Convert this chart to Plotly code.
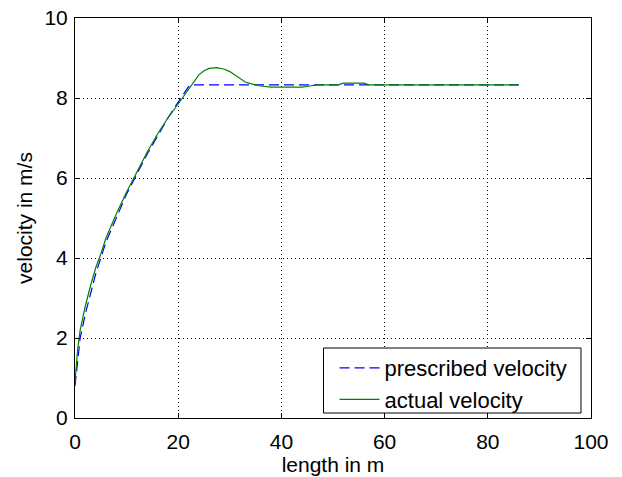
import plotly.graph_objects as go

# Prescribed velocity profile (length in m, velocity in m/s)
prescribed_s = [0, 0.5, 1, 2, 3, 4, 5, 6, 8, 10, 12, 14, 16, 18, 20, 22, 22.6, 86]
prescribed_v = [0.8, 1.5, 2.0, 2.6, 3.1, 3.6, 4.0, 4.4, 5.0, 5.6, 6.1, 6.6, 7.05, 7.5, 7.9, 8.28, 8.33, 8.33]

# Measured (actual) velocity
actual_s = [0, 0.5, 1, 2, 3, 4, 5, 6, 8, 10, 12, 14, 16, 18, 20, 22, 23, 24, 25, 26,
            27.5, 29, 30, 31, 32, 33, 34, 35, 36, 38, 44, 45.5, 47, 51, 52, 56, 57, 86]
actual_v = [0.9, 1.7, 2.2, 2.8, 3.3, 3.75, 4.1, 4.5, 5.1, 5.65, 6.15, 6.65, 7.1, 7.5, 7.85, 8.2, 8.4, 8.58, 8.68, 8.74,
            8.76, 8.72, 8.66, 8.58, 8.48, 8.4, 8.36, 8.33, 8.3, 8.27, 8.27, 8.3, 8.33, 8.33, 8.37, 8.37, 8.33, 8.33]

x_ticks = [0, 20, 40, 60, 80, 100]
y_ticks = [0, 2, 4, 6, 8, 10]

font_family = "Liberation Sans, Arial, sans-serif"
text_font = dict(size=21, color="black", family=font_family)

fig = go.Figure()
fig.add_trace(go.Scatter(
    x=prescribed_s, y=prescribed_v, mode="lines", name="prescribed velocity",
    line=dict(color="#0000FF", width=1.2, dash="10px,5px"),
))
fig.add_trace(go.Scatter(
    x=actual_s, y=actual_v, mode="lines", name="actual velocity",
    line=dict(color="#008000", width=1.2),
))

axis_common = dict(
    showline=True, linecolor="black", linewidth=1, mirror="ticks",
    ticks="inside", ticklen=5, tickcolor="black",
    showgrid=True, gridcolor="black", gridwidth=1, griddash="1px,3px",
    zeroline=False, tickfont=text_font, automargin=False,
)

fig.update_xaxes(range=[0, 100], tickvals=x_ticks, ticktext=[str(v) for v in x_ticks],
                 ticklabelstandoff=5,
                 title=dict(text="length in m", font=text_font, standoff=4),
                 **axis_common)
fig.update_yaxes(range=[0, 10], tickvals=y_ticks, ticktext=[str(v) for v in y_ticks],
                 ticklabelstandoff=2,
                 title=dict(text="velocity in m/s", font=text_font, standoff=6),
                 **axis_common)

# Legend frame: white box with black border behind the legend entries
fig.add_shape(
    type="rect", xref="paper", yref="paper",
    x0=0.4816, x1=0.9806, y0=0.0125, y1=0.175,
    line=dict(color="black", width=1), fillcolor="white", layer="above",
)

fig.update_layout(
    width=622, height=477,
    margin=dict(l=75, r=31, t=18, b=59),
    paper_bgcolor="white", plot_bgcolor="white",
    font=dict(family=font_family, size=21, color="black"),
    showlegend=True,
    legend=dict(
        x=0.503, y=0.1775, xanchor="left", yanchor="top",
        bgcolor="rgba(0,0,0,0)", borderwidth=0,
        font=dict(size=22, color="black", family=font_family),
        tracegroupgap=0, itemwidth=40,
    ),
)

fig.write_html("out.html")
